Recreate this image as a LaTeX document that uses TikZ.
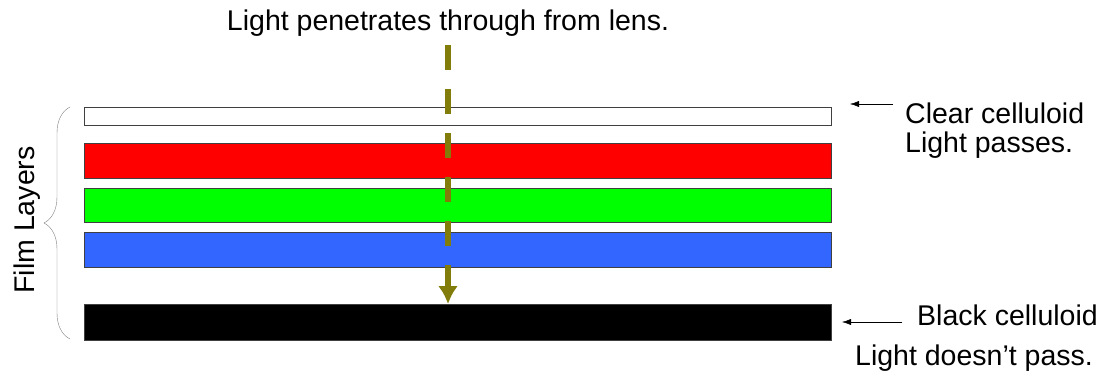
\documentclass[tikz,border=0pt]{standalone}
\usepackage{fontspec}
\setmainfont{Liberation Sans}
\usetikzlibrary{decorations.pathreplacing,arrows.meta}
\definecolor{lightray}{RGB}{130,125,10}
\definecolor{layerblue}{RGB}{51,102,255}
\tikzset{>={Latex[length=9pt,width=6pt]}}
\tikzset{
    layer/.style={draw=black!75,thin,minimum width=747pt,inner sep=0pt,anchor=north west},
    txt/.style={font=\fontsize{28.5}{34}\selectfont,inner sep=0pt,anchor=base west}
}

\begin{document}
\begin{tikzpicture}[x=1pt,y=-1pt]
            \useasboundingbox (0,0) rectangle (1098,378);
            % the film layers
            \node[layer,minimum height=18pt,fill=white] (clear) at (84,107) {};
            \node[layer,minimum height=35pt,fill=red]   (red)   at (84,143) {};
            \node[layer,minimum height=34pt,fill=green] (green) at (84,188) {};
            \node[layer,minimum height=35pt,fill=layerblue] (blue) at (84,232) {};
            \node[layer,minimum height=36pt,fill=black] (black) at (84,304) {};
            % light from the lens
            \node[txt,anchor=base] (lens) at (448,30) {Light penetrates through from lens.};
            \coordinate (lightin) at (448,45);
            \draw[lightray,line width=6.5pt,dash pattern=on 25pt off 19pt,
                  -{Latex[length=18pt,width=20pt]}] (lightin) -- (black.north -| lightin);
            % brace
            \draw[gray,thin,decorate,decoration={brace,amplitude=26pt,aspect=0.5}]
                (70,339) -- (70,107);
            \node[txt,anchor=center,rotate=90] (filmlbl) at (27,220) {Film Layers};
            % labels on the right
            \node[txt] (clearlbl) at (905,123) {Clear celluloid};
            \node[txt] (passlbl)  at (905,152) {Light passes.};
            \coordinate (cleartip) at (850,104);
            \draw[->] (893,104) coordinate (clearfrom) -- (cleartip);
            \node[txt] (blacklbl) at (917,325) {Black celluloid};
            \node[txt] (nopasslbl) at (855,365) {Light doesn't pass.};
            \coordinate (blacktip) at (842,322);
            \draw[->] (902,322) coordinate (blackfrom) -- (blacktip);
        \end{tikzpicture}
\end{document}
